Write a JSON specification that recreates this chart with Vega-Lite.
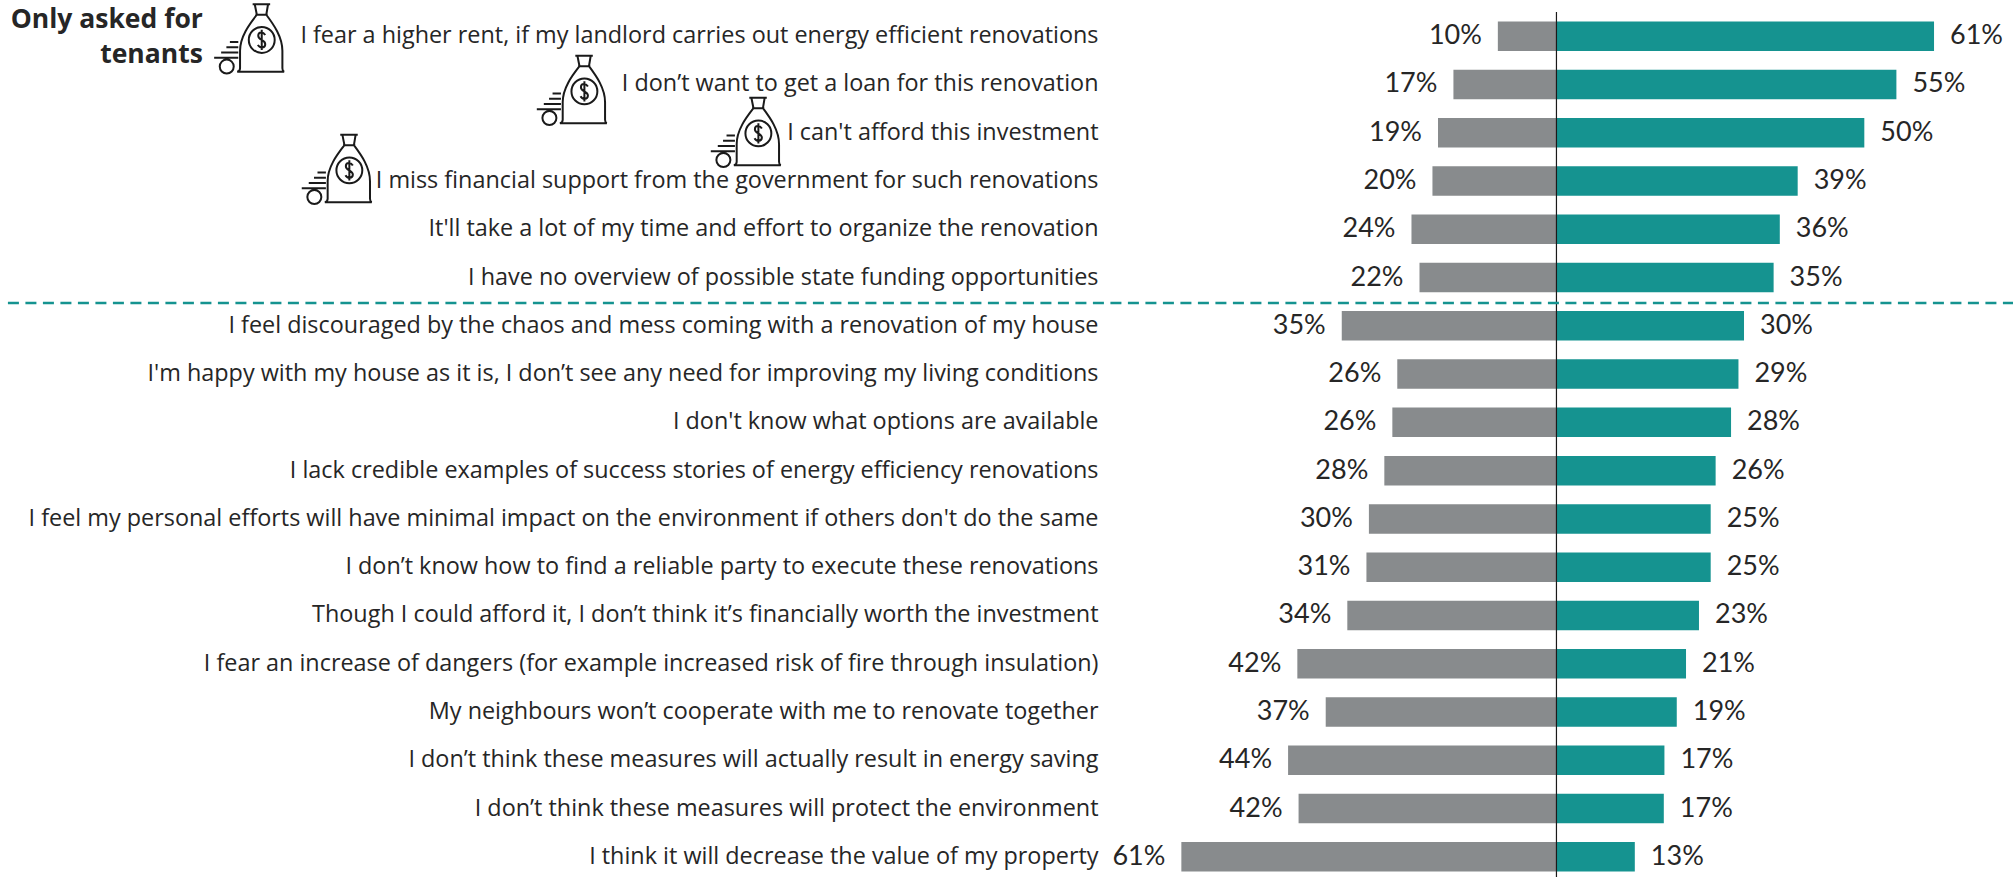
{
"$schema":"https://vega.github.io/schema/vega-lite/v6.json",
"width":910,"height":869,
"autosize":"none",
"padding":{"left":1103,"top":12,"right":0,"bottom":0},
"background":"white",
"config":{"view":{"stroke":null},"font":"Open Sans"},
"datasets":{
"bars":[
{"q":"I fear a higher rent, if my landlord carries out energy efficient renovations","side":"no","value":-9.5,"label":"10%"},
{"q":"I don’t want to get a loan for this renovation","side":"no","value":-16.7,"label":"17%"},
{"q":"I can't afford this investment","side":"no","value":-19.2,"label":"19%"},
{"q":"I miss financial support from the government for such renovations","side":"no","value":-20.1,"label":"20%"},
{"q":"It'll take a lot of my time and effort to organize the renovation","side":"no","value":-23.5,"label":"24%"},
{"q":"I have no overview of possible state funding opportunities","side":"no","value":-22.2,"label":"22%"},
{"q":"I feel discouraged by the chaos and mess coming with a renovation of my house","side":"no","value":-34.8,"label":"35%"},
{"q":"I'm happy with my house as it is, I don’t see any need for improving my living conditions","side":"no","value":-25.8,"label":"26%"},
{"q":"I don't know what options are available","side":"no","value":-26.6,"label":"26%"},
{"q":"I lack credible examples of success stories of energy efficiency renovations","side":"no","value":-27.9,"label":"28%"},
{"q":"I feel my personal efforts will have minimal impact on the environment if others don't do the same","side":"no","value":-30.4,"label":"30%"},
{"q":"I don’t know how to find a reliable party to execute these renovations","side":"no","value":-30.8,"label":"31%"},
{"q":"Though I could afford it, I don’t think it’s financially worth the investment","side":"no","value":-33.9,"label":"34%"},
{"q":"I fear an increase of dangers (for example increased risk of fire through insulation)","side":"no","value":-42,"label":"42%"},
{"q":"My neighbours won’t cooperate with me to renovate together","side":"no","value":-37.4,"label":"37%"},
{"q":"I don’t think these measures will actually result in energy saving","side":"no","value":-43.5,"label":"44%"},
{"q":"I don’t think these measures will protect the environment","side":"no","value":-41.8,"label":"42%"},
{"q":"I think it will decrease the value of my property","side":"no","value":-60.8,"label":"61%"},
{"q":"I fear a higher rent, if my landlord carries out energy efficient renovations","side":"yes","value":61.2,"label":"61%"},
{"q":"I don’t want to get a loan for this renovation","side":"yes","value":55.1,"label":"55%"},
{"q":"I can't afford this investment","side":"yes","value":49.9,"label":"50%"},
{"q":"I miss financial support from the government for such renovations","side":"yes","value":39.1,"label":"39%"},
{"q":"It'll take a lot of my time and effort to organize the renovation","side":"yes","value":36.2,"label":"36%"},
{"q":"I have no overview of possible state funding opportunities","side":"yes","value":35.2,"label":"35%"},
{"q":"I feel discouraged by the chaos and mess coming with a renovation of my house","side":"yes","value":30.4,"label":"30%"},
{"q":"I'm happy with my house as it is, I don’t see any need for improving my living conditions","side":"yes","value":29.5,"label":"29%"},
{"q":"I don't know what options are available","side":"yes","value":28.3,"label":"28%"},
{"q":"I lack credible examples of success stories of energy efficiency renovations","side":"yes","value":25.8,"label":"26%"},
{"q":"I feel my personal efforts will have minimal impact on the environment if others don't do the same","side":"yes","value":25,"label":"25%"},
{"q":"I don’t know how to find a reliable party to execute these renovations","side":"yes","value":25,"label":"25%"},
{"q":"Though I could afford it, I don’t think it’s financially worth the investment","side":"yes","value":23.1,"label":"23%"},
{"q":"I fear an increase of dangers (for example increased risk of fire through insulation)","side":"yes","value":21,"label":"21%"},
{"q":"My neighbours won’t cooperate with me to renovate together","side":"yes","value":19.5,"label":"19%"},
{"q":"I don’t think these measures will actually result in energy saving","side":"yes","value":17.5,"label":"17%"},
{"q":"I don’t think these measures will protect the environment","side":"yes","value":17.4,"label":"17%"},
{"q":"I think it will decrease the value of my property","side":"yes","value":12.7,"label":"13%"}
]},
"layer":[
{"data":{"name":"bars"},"mark":{"type":"bar","size":29.5},
 "encoding":{
  "y":{"field":"q","type":"nominal","title":null,
   "scale":{"paddingInner":0.4,"paddingOuter":0.2,"domain":["I fear a higher rent, if my landlord carries out energy efficient renovations","I don’t want to get a loan for this renovation","I can't afford this investment","I miss financial support from the government for such renovations","It'll take a lot of my time and effort to organize the renovation","I have no overview of possible state funding opportunities","I feel discouraged by the chaos and mess coming with a renovation of my house","I'm happy with my house as it is, I don’t see any need for improving my living conditions","I don't know what options are available","I lack credible examples of success stories of energy efficiency renovations","I feel my personal efforts will have minimal impact on the environment if others don't do the same","I don’t know how to find a reliable party to execute these renovations","Though I could afford it, I don’t think it’s financially worth the investment","I fear an increase of dangers (for example increased risk of fire through insulation)","My neighbours won’t cooperate with me to renovate together","I don’t think these measures will actually result in energy saving","I don’t think these measures will protect the environment","I think it will decrease the value of my property"]},
   "axis":{"domain":false,"ticks":false,"labelPadding":5,"labelFontSize":23.4,"labelFont":"Open Sans","labelColor":"#262626","labelLimit":1200,"grid":false}},
  "x":{"field":"value","type":"quantitative","scale":{"domain":[-73.5,74],"nice":false,"zero":false},"axis":null},
  "color":{"field":"side","type":"nominal","legend":null,"scale":{"domain":["no","yes"],"range":["#888B8D","#159390"]}}
 }},
{"data":{"name":"bars"},"transform":[{"filter":"datum.side==='no'"}],
 "mark":{"type":"text","align":"right","baseline":"middle","dx":-16,"fontSize":27,"font":"Lato","color":"#262626"},
 "encoding":{"y":{"field":"q","type":"nominal"},"x":{"field":"value","type":"quantitative"},"text":{"field":"label"}}},
{"data":{"name":"bars"},"transform":[{"filter":"datum.side==='yes'"}],
 "mark":{"type":"text","align":"left","baseline":"middle","dx":16,"fontSize":27,"font":"Lato","color":"#262626"},
 "encoding":{"y":{"field":"q","type":"nominal"},"x":{"field":"value","type":"quantitative"},"text":{"field":"label"}}},
{"data":{"values":[{"zero":0}]},"mark":{"type":"rule","color":"#1a1a1a","strokeWidth":1.2},
 "encoding":{"x":{"field":"zero","type":"quantitative"}}},
{"data":{"values":[{"from":-251,"to":74,"q":"I have no overview of possible state funding opportunities"}]},
 "mark":{"type":"rule","color":"#159390","strokeWidth":2.5,"strokeDash":[11,6.5],"yOffset":11},
 "encoding":{"x":{"field":"from","type":"quantitative"},"x2":{"field":"to"},"y":{"field":"q","type":"nominal","bandPosition":1}}},
{"data":{"values":[{"t":"Only asked for\ntenants","x":-219.4,"q":"I fear a higher rent, if my landlord carries out energy efficient renovations"}]},
 "mark":{"type":"text","align":"right","baseline":"middle","lineBreak":"\n","lineHeight":35,"fontSize":26.5,"fontWeight":"bold","font":"Open Sans","color":"#262626","yOffset":-16},
 "encoding":{"x":{"field":"x","type":"quantitative"},"y":{"field":"q","type":"nominal"},"text":{"field":"t"}}},
{"data":{"values":[{"x":-211.9,"q":"I fear a higher rent, if my landlord carries out energy efficient renovations"}]},
 "mark":{"type":"point","filled":false,"stroke":"#1a1a1a","strokeWidth":2,"opacity":1,"size":4900,"yOffset":2.4,
  "shape":"M0.1 -0.98 L0.6 -0.98 M0.16 -0.98 L0.22 -0.68 M0.54 -0.98 L0.49 -0.68 M0.18 -0.68 L0.53 -0.68 M0.22 -0.68 C0 -0.4 -0.26 -0.05 -0.26 0.35 L-0.26 0.85 Q-0.26 0.93 -0.34 0.95 L1 0.95 Q0.95 0.93 0.95 0.85 L0.95 0.35 C0.95 -0.05 0.7 -0.4 0.49 -0.68 M0.73 0.04 A0.37 0.37 0 1 1 -0.01 0.04 A0.37 0.37 0 1 1 0.73 0.04 M0.46 -0.1 C0.4 -0.2 0.26 -0.2 0.26 -0.08 C0.26 0.05 0.46 0.03 0.46 0.16 C0.46 0.28 0.3 0.28 0.25 0.18 M0.36 -0.25 L0.36 0.33 M-0.55 0.1 L-0.31 0.1 M-0.65 0.25 L-0.31 0.25 M-0.8 0.4 L-0.31 0.4 M-1 0.55 L-0.31 0.55 M-0.44 0.8 A0.2 0.2 0 1 1 -0.84 0.8 A0.2 0.2 0 1 1 -0.44 0.8"},
 "encoding":{"x":{"field":"x","type":"quantitative"},"y":{"field":"q","type":"nominal"}}},
{"data":{"values":[{"x":-159.6,"q":"I don’t want to get a loan for this renovation"}]},
 "mark":{"type":"point","filled":false,"stroke":"#1a1a1a","strokeWidth":2,"opacity":1,"size":4900,"yOffset":5.6,
  "shape":"M0.1 -0.98 L0.6 -0.98 M0.16 -0.98 L0.22 -0.68 M0.54 -0.98 L0.49 -0.68 M0.18 -0.68 L0.53 -0.68 M0.22 -0.68 C0 -0.4 -0.26 -0.05 -0.26 0.35 L-0.26 0.85 Q-0.26 0.93 -0.34 0.95 L1 0.95 Q0.95 0.93 0.95 0.85 L0.95 0.35 C0.95 -0.05 0.7 -0.4 0.49 -0.68 M0.73 0.04 A0.37 0.37 0 1 1 -0.01 0.04 A0.37 0.37 0 1 1 0.73 0.04 M0.46 -0.1 C0.4 -0.2 0.26 -0.2 0.26 -0.08 C0.26 0.05 0.46 0.03 0.46 0.16 C0.46 0.28 0.3 0.28 0.25 0.18 M0.36 -0.25 L0.36 0.33 M-0.55 0.1 L-0.31 0.1 M-0.65 0.25 L-0.31 0.25 M-0.8 0.4 L-0.31 0.4 M-1 0.55 L-0.31 0.55 M-0.44 0.8 A0.2 0.2 0 1 1 -0.84 0.8 A0.2 0.2 0 1 1 -0.44 0.8"},
 "encoding":{"x":{"field":"x","type":"quantitative"},"y":{"field":"q","type":"nominal"}}},
{"data":{"values":[{"x":-131.4,"q":"I can't afford this investment"}]},
 "mark":{"type":"point","filled":false,"stroke":"#1a1a1a","strokeWidth":2,"opacity":1,"size":4900,"yOffset":-0.7,
  "shape":"M0.1 -0.98 L0.6 -0.98 M0.16 -0.98 L0.22 -0.68 M0.54 -0.98 L0.49 -0.68 M0.18 -0.68 L0.53 -0.68 M0.22 -0.68 C0 -0.4 -0.26 -0.05 -0.26 0.35 L-0.26 0.85 Q-0.26 0.93 -0.34 0.95 L1 0.95 Q0.95 0.93 0.95 0.85 L0.95 0.35 C0.95 -0.05 0.7 -0.4 0.49 -0.68 M0.73 0.04 A0.37 0.37 0 1 1 -0.01 0.04 A0.37 0.37 0 1 1 0.73 0.04 M0.46 -0.1 C0.4 -0.2 0.26 -0.2 0.26 -0.08 C0.26 0.05 0.46 0.03 0.46 0.16 C0.46 0.28 0.3 0.28 0.25 0.18 M0.36 -0.25 L0.36 0.33 M-0.55 0.1 L-0.31 0.1 M-0.65 0.25 L-0.31 0.25 M-0.8 0.4 L-0.31 0.4 M-1 0.55 L-0.31 0.55 M-0.44 0.8 A0.2 0.2 0 1 1 -0.84 0.8 A0.2 0.2 0 1 1 -0.44 0.8"},
 "encoding":{"x":{"field":"x","type":"quantitative"},"y":{"field":"q","type":"nominal"}}},
{"data":{"values":[{"x":-197.7,"q":"I miss financial support from the government for such renovations"}]},
 "mark":{"type":"point","filled":false,"stroke":"#1a1a1a","strokeWidth":2,"opacity":1,"size":4900,"yOffset":-12,
  "shape":"M0.1 -0.98 L0.6 -0.98 M0.16 -0.98 L0.22 -0.68 M0.54 -0.98 L0.49 -0.68 M0.18 -0.68 L0.53 -0.68 M0.22 -0.68 C0 -0.4 -0.26 -0.05 -0.26 0.35 L-0.26 0.85 Q-0.26 0.93 -0.34 0.95 L1 0.95 Q0.95 0.93 0.95 0.85 L0.95 0.35 C0.95 -0.05 0.7 -0.4 0.49 -0.68 M0.73 0.04 A0.37 0.37 0 1 1 -0.01 0.04 A0.37 0.37 0 1 1 0.73 0.04 M0.46 -0.1 C0.4 -0.2 0.26 -0.2 0.26 -0.08 C0.26 0.05 0.46 0.03 0.46 0.16 C0.46 0.28 0.3 0.28 0.25 0.18 M0.36 -0.25 L0.36 0.33 M-0.55 0.1 L-0.31 0.1 M-0.65 0.25 L-0.31 0.25 M-0.8 0.4 L-0.31 0.4 M-1 0.55 L-0.31 0.55 M-0.44 0.8 A0.2 0.2 0 1 1 -0.84 0.8 A0.2 0.2 0 1 1 -0.44 0.8"},
 "encoding":{"x":{"field":"x","type":"quantitative"},"y":{"field":"q","type":"nominal"}}}
]
}
